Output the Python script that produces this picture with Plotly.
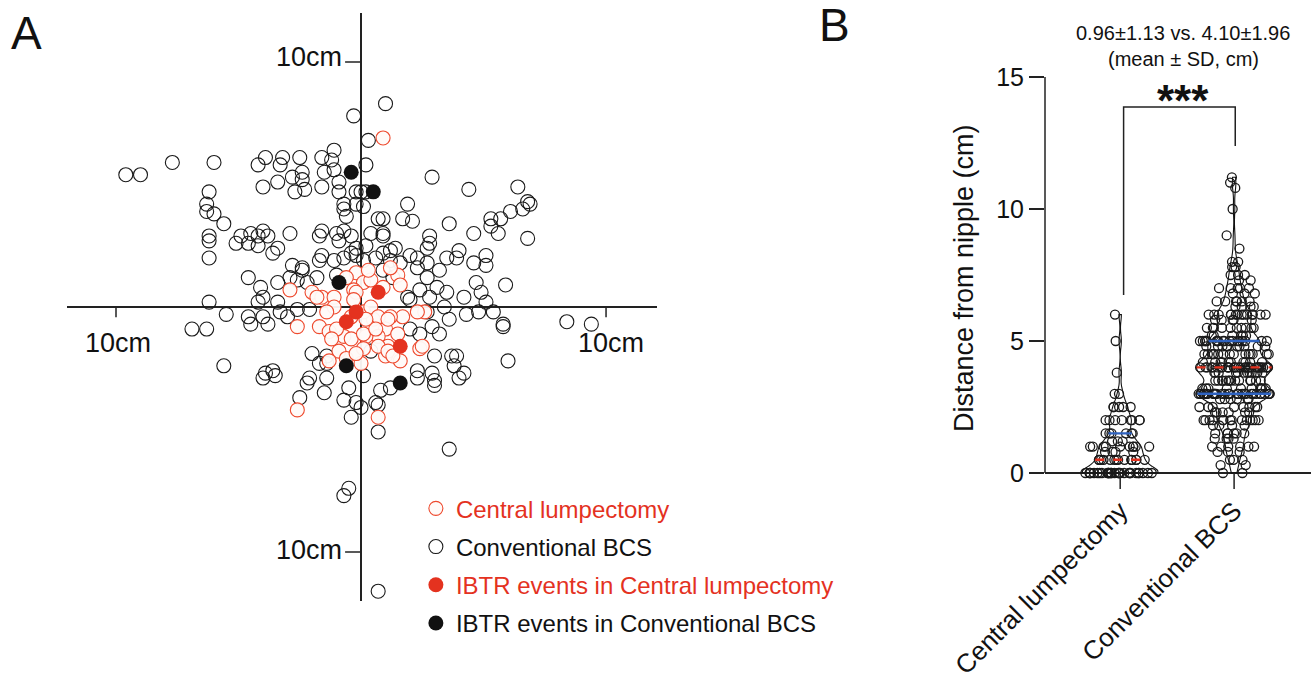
import numpy as np
import plotly.graph_objects as go

FONT = "Liberation Sans, Arial, sans-serif"
RED = "#E4321F"
RED_OPEN = "#EE4A2E"
BLUE = "#2F63C0"

# ---------------- Panel A data (cm from nipple) ----------------
conv_x = [1.0, -0.3, 0.3, 0.2, 2.9, 4.4, 6.4, 1.9, 1.7, 2.1, 3.6, 6.8, 6.9, 6.6, 6.1, 5.7, 5.3, 5.3, 4.6, 5.6,
          6.8, 2.8, 0.9, 0.7, 0.9, 0.1, -0.2, 0.0, -9.6, -9.0, -7.7, -6.0, -4.2, -3.9, -3.2, -2.5, -3.3, -2.8, -2.4, -2.4,
          -4.0, -3.4, -2.7, -2.3, -1.6, -1.1, -1.2, -1.5, -1.6, -1.1, -0.9, -0.9, -0.7, -0.7, -0.6, -0.2, 0.2, -6.2, -6.3, -6.3,
          -6.0, -5.6, -6.2, -4.9, -4.5, -4.2, -4.0, -2.9, -1.6, -1.0, -0.7, -0.4, -6.2, -6.2, -5.1, -4.6, -4.2, -3.8, -3.4, -3.6,
          -2.8, -2.4, -1.7, -1.6, -0.9, -0.4, -4.6, -4.1, -3.4, -2.9, -2.2, -4.2, -4.0, -6.2, -5.5, -4.6, -4.5, -3.8, -3.3, -2.6,
          -2.1, -6.9, -6.3, -5.6, -3.9, -3.6, -2.0, -1.4, -2.1, -3.4, -4.0, -3.0, -2.4, -2.6, -1.7, -1.1, -0.7, -0.2, 0.1, 0.6,
          1.2, 1.6, 2.0, 2.3, 2.7, 2.4, 2.0, 2.7, 2.9, 2.4, 2.0, -1.4, -1.7, 0.4, 4.0, 5.1, 4.6, 5.1, 3.9, 5.9,
          4.7, 4.9, 4.2, 5.1, 5.4, 4.8, 4.3, 5.8, 5.8, 3.6, 3.4, 2.8, 3.1, 1.9, 3.5, 3.2, 3.5, 2.7, 2.3, 2.8,
          2.7, 1.2, 0.9, 1.4, 0.9, 0.4, -0.2, 0.2, 8.4, 9.4, 3.2, 3.7, 3.9, 6.0, 3.0, 3.8, 4.2, 2.3, 2.9, -4.0,
          -3.5, -2.2, -2.5, -1.5, -1.4, -0.5, -0.7, 0.0, -0.2, 0.6, 0.7, -0.4, 0.7, 0.8, 1.2, 2.3, 3.0, 3.0, 4.0, 3.6,
          -0.5, -0.7, 0.7, 0.1, -1.8, -1.0, 0.9, 1.3]
conv_y = [8.3, 7.8, 6.8, 5.8, 5.3, 4.8, 4.9, 4.2, 3.6, 3.5, 3.4, 4.3, 4.2, 4.0, 3.9, 3.6, 3.6, 3.3, 3.0, 3.0,
          2.8, 2.9, 3.6, 3.6, 3.0, 4.1, 4.7, 4.7, 5.4, 5.4, 5.9, 5.9, 5.8, 6.1, 6.1, 6.1, 5.8, 5.3, 5.5, 5.2,
          4.9, 5.1, 4.7, 4.8, 6.1, 6.4, 6.0, 5.5, 4.9, 5.6, 5.1, 4.7, 4.2, 4.0, 3.7, 4.2, 4.7, 4.7, 4.2, 3.9,
          3.8, 3.4, 2.9, 2.9, 3.0, 2.9, 3.1, 3.0, 3.1, 3.0, 3.1, 2.9, 2.7, 2.0, 2.6, 2.6, 2.5, 2.9, 2.4, 2.2,
          1.7, 1.5, 2.9, 2.1, 2.7, 2.2, 1.2, 0.8, 1.0, 1.2, 1.0, 0.2, 0.4, 0.2, -0.3, -0.4, -0.7, -0.7, -0.2, -0.1,
          -0.1, -0.9, -0.9, -2.4, -2.7, -2.6, -1.9, -2.3, -2.9, 0.2, -0.4, -0.4, 1.6, 1.1, 1.9, 1.9, 2.0, 2.1, 1.9, 2.0,
          1.9, 1.8, 2.1, 1.6, 1.2, 0.7, 0.3, -0.2, -0.8, -1.1, -0.9, -2.0, -2.3, -1.8, 2.3, 2.1, 1.8, 1.7, 2.0, 0.9,
          1.0, 0.6, 0.4, 0.2, -0.2, -0.2, -0.3, -0.7, -0.8, -0.5, 0.0, 0.4, 0.8, 0.4, 0.6, 1.5, 2.0, 1.8, 2.0, 2.6,
          2.4, 2.3, 2.2, 2.4, 2.9, 3.0, 2.4, 2.5, -0.6, -0.7, -1.1, -2.0, -2.0, -2.2, -2.0, -2.4, -2.7, -2.6, -2.7, -2.9,
          -2.8, -3.1, -3.7, -3.5, -2.9, -3.3, -3.8, -4.1, -3.9, -3.9, -4.0, -4.5, -5.1, -3.4, -3.3, -2.9, -3.0, -3.2, -2.9, -5.8,
          -7.4, -7.7, -11.6, -2.8, 1.2, 1.3, 1.5, 1.2]

central_x = [0.9, -2.9, -2.0, -1.6, -1.1, -2.6, -1.7, -1.3, -0.7, -0.9, -1.3, -0.2, 0.1, 1.5, 1.6, 0.9, 0.4, 2.6, 2.3, 1.7,
             1.2, 1.0, 0.7, 0.2, 0.1, 1.1, 1.0, 1.6, 2.4, 0.0, 0.5, 0.1, -0.3, -1.8, -1.1, -0.2, 0.4, 0.7, 1.1, 2.5,
             -1.0, -1.2, -0.4, 0.1, 0.6, 0.7, 1.5, 1.1, 1.3, -0.6, -0.2, -0.4, 0.2, -0.3, -1.4, -2.6, 0.7, 0.3, 1.2, -0.6]
central_y = [6.9, 0.7, 0.6, 0.4, 0.4, -0.8, -0.8, -1.0, -1.2, -1.8, -2.2, 1.4, 1.0, 1.3, 0.9, 0.8, 1.1, -0.2, -0.2, -0.4,
             -0.4, -0.9, -1.2, -1.2, -1.7, -1.6, -2.0, -2.2, -1.7, -2.3, -0.5, -0.2, 0.7, 0.4, 0.0, 0.6, 0.0, -0.4, -0.5, -1.6,
             -0.9, -1.3, -1.3, -1.1, -0.9, -1.6, -1.1, -1.8, -2.0, -2.1, -1.9, -0.4, -0.5, 0.3, -0.2, -4.2, -4.5, 1.5, 1.6, 1.2]

ibtr_central_x = [0.7, -0.2, -0.6, 1.6]
ibtr_central_y = [0.6, -0.2, -0.6, -1.6]
ibtr_conv_x = [-0.4, 0.5, -0.9, -0.6, 1.6]
ibtr_conv_y = [5.5, 4.7, 1.0, -2.4, -3.1]

# ---------------- Panel B data (distance from nipple, cm) ----------------
groups = ["Central lumpectomy", "Conventional BCS"]
central_levels = [0.0, 0.5, 0.8, 1.0, 1.2, 1.5, 2.0, 2.5, 3.0, 3.8, 5.0, 6.0]
central_counts = [30, 14, 4, 10, 3, 6, 8, 5, 2, 1, 1, 1]
conv_levels = [0.0, 0.3, 0.5, 0.8, 1.0, 1.3, 1.5, 1.8, 2.0, 2.3, 2.5, 2.8, 3.0, 3.2, 3.5, 3.8, 4.0, 4.2, 4.5, 4.8,
               5.0, 5.2, 5.5, 5.8, 6.0, 6.3, 6.5, 6.8, 7.0, 7.3, 7.5, 7.8, 8.0, 8.5, 9.0, 10.0, 10.8, 11.0, 11.2]
conv_counts = [2, 2, 3, 3, 6, 4, 6, 4, 14, 6, 8, 6, 35, 10, 14, 12, 30, 10, 15, 10,
               18, 6, 10, 5, 14, 4, 6, 3, 5, 2, 3, 2, 2, 1, 1, 1, 1, 1, 1]
stat_text = "0.96±1.13 vs. 4.10±1.96"

central_dist = np.repeat(central_levels, central_counts)
conv_dist = np.repeat(conv_levels, conv_counts)

fig = go.Figure()

# ---- Panel A traces ----
fig.add_trace(go.Scatter(
    x=conv_x, y=conv_y, mode="markers", xaxis="x", yaxis="y",
    name='<span style="color:#111">Conventional BCS</span>', legendrank=2, legendgroup="b",
    marker=dict(size=14, color="rgba(0,0,0,0)", line=dict(color="#1a1a1a", width=1.1))))
fig.add_trace(go.Scatter(
    x=central_x, y=central_y, mode="markers", xaxis="x", yaxis="y",
    name='<span style="color:%s">Central lumpectomy</span>' % RED, legendrank=1, legendgroup="a",
    marker=dict(size=14, color="rgba(255,250,248,0.95)", line=dict(color=RED_OPEN, width=1.1))))
fig.add_trace(go.Scatter(
    x=ibtr_central_x, y=ibtr_central_y, mode="markers", xaxis="x", yaxis="y",
    name='<span style="color:%s">IBTR events in Central lumpectomy</span>' % RED, legendrank=3, legendgroup="c",
    marker=dict(size=15, color=RED, line=dict(width=0))))
fig.add_trace(go.Scatter(
    x=ibtr_conv_x, y=ibtr_conv_y, mode="markers", xaxis="x", yaxis="y",
    name='<span style="color:#111">IBTR events in Conventional BCS</span>', legendrank=4, legendgroup="d",
    marker=dict(size=15, color="#111", line=dict(width=0))))

# ---- Panel B traces ----
VW = 0.66
BW = [0.25, 0.3]
for i, data in enumerate([central_dist, conv_dist]):
    fig.add_trace(go.Violin(
        y=data, x0=i, xaxis="x2", yaxis="y2", width=VW, bandwidth=BW[i], spanmode="hard",
        line=dict(color="#111", width=1.1), fillcolor="rgba(0,0,0,0)",
        points="all", pointpos=0, jitter=0.95,
        marker=dict(symbol="circle-open", size=9, color="#1a1a1a", line=dict(width=1.3)),
        showlegend=False, hoverinfo="skip"))

# median (red dashed) and quartile (blue) lines spanning the violin width
for i, data in enumerate([central_dist, conv_dist]):
    grid = np.linspace(data.min(), data.max(), 800)
    dens = lambda v: np.exp(-0.5 * ((v - data) / BW[i]) ** 2).sum()
    dmax = max(dens(g) for g in grid)
    q1, med, q3 = np.percentile(data, [25, 50, 75])
    for val, col, dash in [(q1, BLUE, "solid"), (q3, BLUE, "solid"), (med, RED, "dash")]:
        if val <= data.min():
            continue
        hw = dens(val) / dmax * VW / 2
        fig.add_trace(go.Scatter(x=[i - hw, i + hw], y=[val, val], mode="lines", xaxis="x2", yaxis="y2",
                                 line=dict(color=col, width=2.4, dash=dash), showlegend=False, hoverinfo="skip"))

AXC = "#222"
fig.update_layout(
    width=1314, height=682, margin=dict(l=0, r=0, t=0, b=0, pad=0, autoexpand=False),
    paper_bgcolor="white", plot_bgcolor="white",
    font=dict(family=FONT, color="#111"),
    showlegend=True,
    legend=dict(x=0.3165, y=0.2870, xanchor="left", yanchor="top", font=dict(size=24, family=FONT),
                tracegroupgap=4, bgcolor="rgba(0,0,0,0)", itemclick=False),
    xaxis=dict(domain=[67 / 1314, 657 / 1314], range=[-12.0, 12.08], showgrid=False, showticklabels=False,
               ticks="", zeroline=True, zerolinecolor=AXC, zerolinewidth=1.5, showline=False, automargin=False),
    yaxis=dict(domain=[1 - 601 / 682, 1 - 13 / 682], range=[-12.0, 12.0], showgrid=False, showticklabels=False,
               ticks="", zeroline=True, zerolinecolor=AXC, zerolinewidth=1.5, showline=False, automargin=False),
    xaxis2=dict(domain=[1045 / 1314, 1311 / 1314], range=[-0.66, 1.675], anchor="y2", automargin=False,
                tickvals=[0, 1], ticktext=groups, tickangle=-45, ticks="outside", ticklen=2,
                tickcolor="rgba(0,0,0,0)", tickfont=dict(size=26, family=FONT, color="#111"),
                showgrid=False, zeroline=False, showline=False),
    yaxis2=dict(domain=[1 - 482.24 / 682, 1 - 74.36 / 682], range=[-0.35, 15.1], anchor="x2", automargin=False,
                tickvals=[0, 5, 10, 15], ticks="outside", ticklen=15, tickwidth=1.5, tickcolor=AXC,
                tickfont=dict(size=25, family=FONT, color="#111"), showgrid=False,
                zeroline=True, zerolinecolor=AXC, zerolinewidth=1.5, showline=False,
                title=dict(text="Distance from nipple (cm)", font=dict(size=27, family=FONT, color="#111"),
                           standoff=14)),
)

shapes = []
# Panel A ticks at +/-10 cm
for v in [10, -10]:
    shapes.append(dict(type="line", xref="x", yref="y", x0=v, x1=v, y0=0, y1=-0.42, line=dict(color=AXC, width=1.5)))
    shapes.append(dict(type="line", xref="x", yref="y", x0=-0.65, x1=0, y0=v, y1=v, line=dict(color=AXC, width=1.5)))
# Panel B y axis line
shapes.append(dict(type="line", xref="x2 domain", yref="y2", x0=0, x1=0, y0=0, y1=15, line=dict(color=AXC, width=1.5)))
# Panel B x ticks
for i in range(2):
    shapes.append(dict(type="line", xref="x2", yref="paper", x0=i, x1=i, y0=1 - 473 / 682, y1=1 - 489 / 682,
                       line=dict(color=AXC, width=1.5)))
# significance bracket
shapes.append(dict(type="path", xref="x2", yref="y2", path="M 0.03,6.74 L 0.03,13.86 L 1.01,13.86 L 1.01,12.39",
                   line=dict(color=AXC, width=1.5)))
fig.update_layout(shapes=shapes)

ann = []
ann.append(dict(text="A", xref="paper", yref="paper", x=26 / 1314, y=1 - 33 / 682, showarrow=False,
                font=dict(size=46, family=FONT, color="#111"), xanchor="center", yanchor="middle"))
ann.append(dict(text="B", xref="paper", yref="paper", x=834 / 1314, y=1 - 25 / 682, showarrow=False,
                font=dict(size=46, family=FONT, color="#111"), xanchor="center", yanchor="middle"))
lab = dict(size=27, family=FONT, color="#111")
ann.append(dict(text="10cm", xref="x", yref="y", x=-0.7, y=10.2, xanchor="right", yanchor="middle", showarrow=False, font=lab))
ann.append(dict(text="10cm", xref="x", yref="y", x=-0.7, y=-9.9, xanchor="right", yanchor="middle", showarrow=False, font=lab))
ann.append(dict(text="10cm", xref="x", yref="y", x=-9.9, y=-1.45, xanchor="center", yanchor="middle", showarrow=False, font=lab))
ann.append(dict(text="10cm", xref="x", yref="y", x=10.2, y=-1.45, xanchor="center", yanchor="middle", showarrow=False, font=lab))
ann.append(dict(text=stat_text, xref="paper", yref="paper", x=1183 / 1314, y=1 - 33 / 682, xanchor="center",
                yanchor="middle", showarrow=False, font=dict(size=20, family=FONT, color="#111")))
ann.append(dict(text="(mean ± SD, cm)", xref="paper", yref="paper", x=1183 / 1314, y=1 - 59 / 682, xanchor="center",
                yanchor="middle", showarrow=False, font=dict(size=20, family=FONT, color="#111")))
ann.append(dict(text="<b>***</b>", xref="paper", yref="paper", x=1183 / 1314, y=1 - 101 / 682, xanchor="center",
                yanchor="middle", showarrow=False, font=dict(size=44, family=FONT, color="#111")))
fig.update_layout(annotations=ann)

fig.write_html("out.html", config={"displayModeBar": False},
               post_script="document.body.style.margin='0px';")
